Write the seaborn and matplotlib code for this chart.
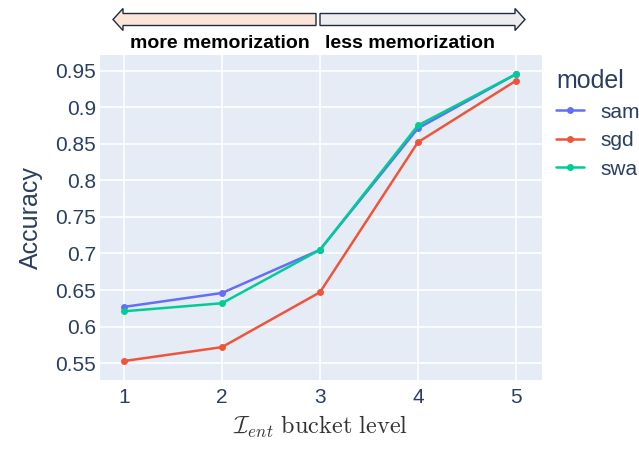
import matplotlib
matplotlib.use("Agg")
import matplotlib.pyplot as plt
import numpy as np
import pandas as pd
import seaborn as sns
from matplotlib.patches import FancyArrow
from matplotlib.ticker import FuncFormatter

# values
buckets = [1, 2, 3, 4, 5]
models = ["sam", "sgd", "swa"]
sam_acc = [0.627, 0.646, 0.705, 0.871, 0.945]
sgd_acc = [0.553, 0.572, 0.647, 0.852, 0.936]
swa_acc = [0.621, 0.632, 0.705, 0.875, 0.945]
y_ticks = [0.55, 0.6, 0.65, 0.7, 0.75, 0.8, 0.85, 0.9, 0.95]

df = pd.DataFrame({
    "bucket": buckets * 3,
    "Accuracy": sam_acc + sgd_acc + swa_acc,
    "model": [m for m in models for _ in buckets],
})

sns.set_theme(style="darkgrid", rc={
    "axes.facecolor": "#E5ECF6",
    "grid.color": "white",
    "grid.linewidth": 1.2,
})
plt.rcParams["font.family"] = ["Liberation Sans", "DejaVu Sans"]
plt.rcParams["mathtext.fontset"] = "cm"
text_col = "#2a3f5f"

fig = plt.figure(figsize=(6.39, 4.53), dpi=100)
ax = fig.add_axes([0.1565, 0.161, 0.6915, 0.718])

palette = {"sam": "#636EFA", "sgd": "#EF553B", "swa": "#00CC96"}
sns.lineplot(data=df, x="bucket", y="Accuracy", hue="model", palette=palette,
             marker="o", markersize=5, markeredgewidth=0, linewidth=1.8, ax=ax)

ax.set_xlim(0.755, 5.265)
ax.set_ylim(0.527, 0.9715)
ax.set_xticks(buckets)
ax.set_yticks(y_ticks)
ax.yaxis.set_major_formatter(FuncFormatter(lambda v, p: f"{v:g}"))
ax.tick_params(length=0, labelsize=15, labelcolor=text_col)
ax.tick_params(axis="y", pad=3)
ax.tick_params(axis="x", pad=6)
for s in ax.spines.values():
    s.set_visible(False)

ax.set_ylabel("Accuracy", fontsize=18, color=text_col, labelpad=9)
ax.set_xlabel(r"$\mathcal{I}_{ent}\ \mathrm{bucket\ level}$", fontsize=17.5,
              color="#333333", labelpad=5)

leg = ax.legend(title="model", loc="upper left", bbox_to_anchor=(1.0, 1.0),
                frameon=False, fontsize=15, title_fontsize=18,
                handlelength=1.3, labelspacing=0.45, borderaxespad=0.3)
leg._legend_box.align = "left"
for t in leg.get_texts():
    t.set_color(text_col)
leg.get_title().set_color(text_col)

# arrows above the plot
W, H = 639, 453
def arrow(x0, x1, fill):
    dx = (x1 - x0) / W
    fig.patches.append(FancyArrow(x0 / W, 1 - 19.5 / H, dx, 0, width=12 / H,
                                  head_width=22 / H, head_length=10 / W,
                                  length_includes_head=True, facecolor=fill,
                                  edgecolor="#1f2a44", linewidth=1,
                                  transform=fig.transFigure, figure=fig))

arrow(316, 113, "#FCE4D6")
arrow(320, 525, "#EDEDED")
fig.text(220 / W, 1 - 44 / H, "more memorization", ha="center", va="center",
         fontsize=14, fontweight="bold", color="black")
fig.text(410 / W, 1 - 44 / H, "less memorization", ha="center", va="center",
         fontsize=14, fontweight="bold", color="black")

fig.savefig("out.png", dpi=100)
